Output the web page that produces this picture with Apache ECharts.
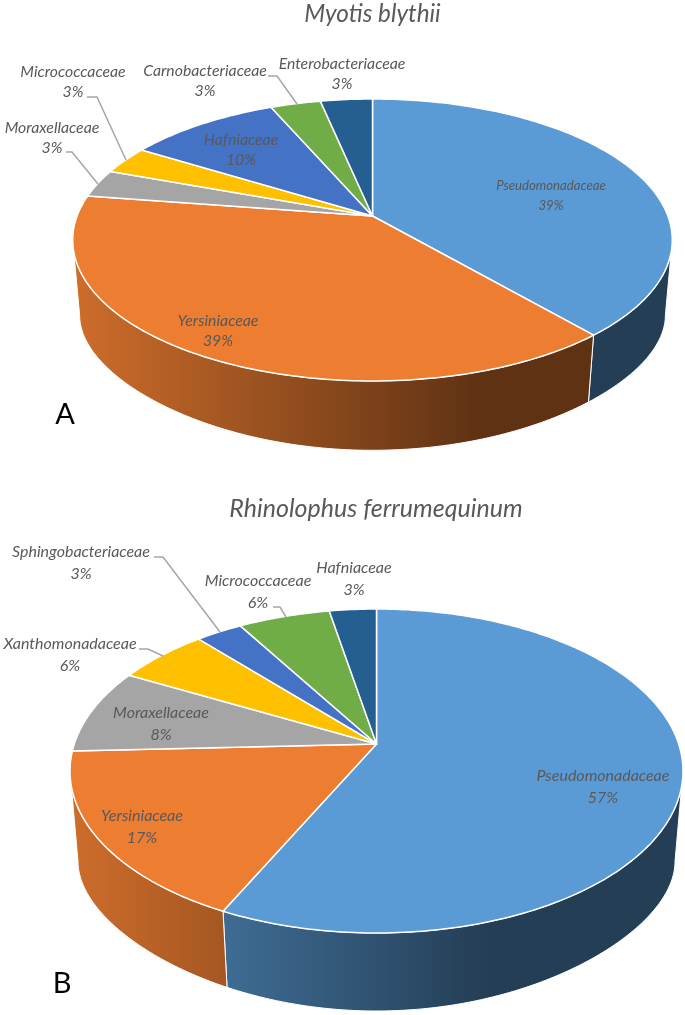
<!DOCTYPE html>
<html><head><meta charset="utf-8">
<style>html,body{margin:0;padding:0;background:#fff}#c{width:685px;height:1015px}</style>
<script src="https://cdn.jsdelivr.net/npm/echarts@6/dist/echarts.min.js"></script>
</head><body><div id="c"></div>
<script>
// ---- data ----
const namesA = ['Pseudomonadaceae','Yersiniaceae','Moraxellaceae','Micrococcaceae','Hafniaceae','Carnobacteriaceae','Enterobacteriaceae'];
const valuesA = [38.7,38.7,3.2,3.2,9.7,3.2,3.3];
const namesB = ['Pseudomonadaceae','Yersiniaceae','Moraxellaceae','Xanthomonadaceae','Sphingobacteriaceae','Micrococcaceae','Hafniaceae'];
const valuesB = [57.1,17.2,8.49,5.7,2.9,5.7,2.91];
const sliceColors = ['#5B9BD5','#ED7D31','#A5A5A5','#FFC000','#4472C4','#70AD47','#255E91'];

// ---- layout (perspective disc, label anchors, leader lines) ----
const layoutA = {
  cx:372.5, cy:216, rx:295.4, ry:136.9, k:0.17, wallScale:0.977, wallCy:296, wallRy:108, wallK:0.3, left:73, right:671,
  fonts:[13.2,15.8,15.8,15.8,15.8,15.8,15.8], lineHeight:20,
  labels:[[551,196],[218,331],[52,138],[73,82],[241,150],[205,81],[342,74]],
  leaders:{2:[[66,152],[72,152],[98,184]],3:[[87,97],[97,97],[126,160]],5:[[268,76],[277,76],[297,104]]}
};
const layoutB = {
  cx:376.5, cy:744, rx:302.2, ry:157.5, k:0.1667, wallScale:0.974, wallCy:841.3, wallRy:113.7, wallK:0.33, left:70, right:683,
  fonts:[16,16,16,16,16,16,16], lineHeight:22,
  labels:[[603,787],[142,827],[161,724],[70,655],[81,563],[258,592],[354,579]],
  leaders:{3:[[139,649],[148,649],[163,656]],4:[[154,557],[163,557],[220,632]],5:[[273,607],[280,607],[286,617]]}
};

function rgb(hex,f){const n=parseInt(hex.slice(1),16);
  return 'rgb('+[(n>>16)&255,(n>>8)&255,n&255].map(c=>Math.round(c*f)).join(',')+')';}

function pieSeries(names, values, L){
  const total = values.reduce((a,b)=>a+b,0);
  const uv = deg => { const a = deg*Math.PI/180; return [Math.sin(a), -Math.cos(a)]; };
  const topPt = deg => { const [u,v]=uv(deg), w=1-L.k*v;
    return [L.cx + L.rx*u/w, L.cy + L.ry*v/w]; };
  const lowPt = deg => { const [u,v]=uv(deg);
    return [L.cx + L.wallScale*L.rx*u/(1-L.k*v), L.wallCy + L.wallRy*v/(1-L.wallK*v)]; };
  const arc = (f,a0,a1) => { const n=Math.max(2,Math.ceil(a1-a0)), out=[];
    for(let s=0;s<=n;s++) out.push(f(a0+(a1-a0)*s/n)); return out; };
  // the wall is only seen between the two silhouette tangents of the tilted disc
  const visFrom = Math.acos(-L.k)*180/Math.PI, visTo = 360-visFrom;
  return {
    type:'custom', coordinateSystem:'none', silent:true, animation:false,
    data: names.map((n,i)=>({name:n,value:[i,values[i]]})),
    renderItem(params, api){
      const i = params.dataIndex;
      let before = 0; for(let j=0;j<i;j++) before += values[j];
      const a0 = before/total*360, a1 = (before+api.value(1))/total*360;
      const col = sliceColors[i];
      const children = [
        {type:'polygon',z2:2,shape:{points:[[L.cx,L.cy]].concat(arc(topPt,a0,a1))},
         style:{fill:col,stroke:'#fff',lineWidth:1.5,lineJoin:'round'}},
        {type:'text',z2:4,style:{
          x:L.labels[i][0],y:L.labels[i][1],
          text:names[i]+'\n'+Math.round(api.value(1)/total*100)+'%',
          align:'center',verticalAlign:'middle',lineHeight:L.lineHeight,
          font:'italic '+L.fonts[i]+'px Lato, sans-serif',fill:'#595959'}}
      ];
      const w0 = Math.max(a0,visFrom), w1 = Math.min(a1,visTo);
      if(w1>w0){
        const wallFill = {type:'linear',x:L.left,y:0,x2:L.right,y2:0,global:true,colorStops:[
          {offset:0,color:rgb(col,0.87)},{offset:0.68,color:rgb(col,0.40)},{offset:1,color:rgb(col,0.40)}]};
        children.push({type:'polygon',z2:1,
          shape:{points:arc(topPt,w0,w1).concat(arc(lowPt,w0,w1).reverse())},
          style:{fill:wallFill,stroke:'#fff',lineWidth:1}});
      }
      if(L.leaders[i]) children.push({type:'polyline',z2:3,shape:{points:L.leaders[i]},
        style:{fill:'none',stroke:'#A6A6A6',lineWidth:1.5}});
      return {type:'group',children};
    }
  };
}

const chart = echarts.init(document.getElementById('c'),null,{renderer:'canvas'});
chart.setOption({
  backgroundColor:'#fff',
  title:[
    {text:'Myotis blythii',left:367.5,top:9,textAlign:'center',textVerticalAlign:'middle',
     textStyle:{fontFamily:'Lato',fontStyle:'italic',fontWeight:'normal',fontSize:24.3,color:'#595959'}},
    {text:'Rhinolophus ferrumequinum',left:371,top:504,textAlign:'center',textVerticalAlign:'middle',
     textStyle:{fontFamily:'Lato',fontStyle:'italic',fontWeight:'normal',fontSize:25,color:'#595959'}},
    {text:'A',left:60,top:410,textAlign:'center',textVerticalAlign:'middle',
     textStyle:{fontFamily:'Lato',fontWeight:'normal',fontSize:29,color:'#000'}},
    {text:'B',left:57,top:979,textAlign:'center',textVerticalAlign:'middle',
     textStyle:{fontFamily:'Lato',fontWeight:'normal',fontSize:29,color:'#000'}}
  ],
  series:[pieSeries(namesA,valuesA,layoutA),pieSeries(namesB,valuesB,layoutB)]
});
</script></body></html>
